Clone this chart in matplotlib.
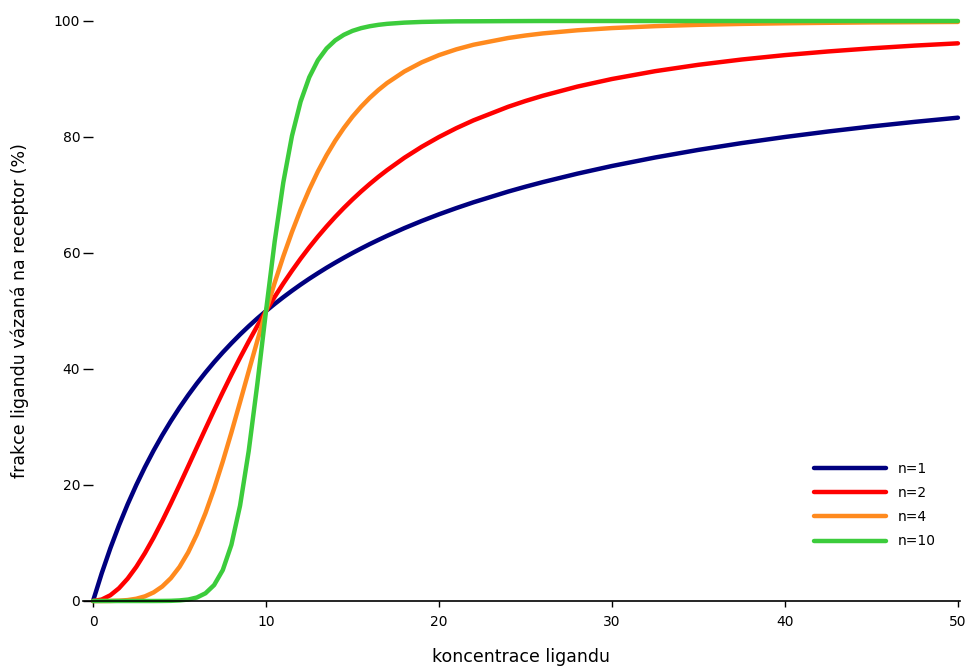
import matplotlib
matplotlib.use("Agg")
import matplotlib.pyplot as plt

# ligand concentration (K = 10)
conc = [0, 0.5, 1, 1.5, 2, 2.5, 3, 3.5, 4, 4.5,
        5, 5.5, 6, 6.5, 7, 7.5, 8, 8.5, 9, 9.5,
        10, 10.5, 11, 11.5, 12, 12.5, 13, 13.5, 14, 14.5,
        15, 15.5, 16, 16.5, 17, 18, 19, 20, 21, 22,
        24, 25, 26, 28, 30, 32.5, 35, 37.5, 40, 42.5,
        45, 47.5, 50]

n1 = [0, 4.76, 9.09, 13.04, 16.67, 20, 23.08, 25.93, 28.57, 31.03,
      33.33, 35.48, 37.5, 39.39, 41.18, 42.86, 44.44, 45.95, 47.37, 48.72,
      50, 51.22, 52.38, 53.49, 54.55, 55.56, 56.52, 57.45, 58.33, 59.18,
      60, 60.78, 61.54, 62.26, 62.96, 64.29, 65.52, 66.67, 67.74, 68.75,
      70.59, 71.43, 72.22, 73.68, 75, 76.47, 77.78, 78.95, 80, 80.95,
      81.82, 82.61, 83.33]
n2 = [0, 0.25, 0.99, 2.2, 3.85, 5.88, 8.26, 10.91, 13.79, 16.84,
      20, 23.22, 26.47, 29.7, 32.89, 36, 39.02, 41.94, 44.75, 47.44,
      50, 52.44, 54.75, 56.94, 59.02, 60.98, 62.83, 64.57, 66.22, 67.77,
      69.23, 70.61, 71.91, 73.14, 74.29, 76.42, 78.31, 80, 81.52, 82.88,
      85.21, 86.21, 87.11, 88.69, 90, 91.35, 92.45, 93.36, 94.12, 94.75,
      95.29, 95.76, 96.15]
n4 = [0, 0, 0.01, 0.05, 0.16, 0.39, 0.8, 1.48, 2.5, 3.94,
      5.88, 8.38, 11.47, 15.15, 19.36, 24.04, 29.06, 34.3, 39.62, 44.89,
      50, 54.86, 59.42, 63.62, 67.46, 70.94, 74.07, 76.86, 79.35, 81.55,
      83.51, 85.23, 86.76, 88.11, 89.31, 91.3, 92.87, 94.12, 95.11, 95.91,
      97.07, 97.5, 97.86, 98.4, 98.78, 99.11, 99.34, 99.5, 99.61, 99.69,
      99.76, 99.8, 99.84]
n10 = [0, 0, 0, 0, 0, 0, 0, 0, 0.01, 0.03,
       0.1, 0.25, 0.6, 1.33, 2.75, 5.33, 9.7, 16.45, 25.86, 37.45,
       50, 61.96, 72.17, 80.18, 86.1, 90.3, 93.24, 95.26, 96.66, 97.62,
       98.3, 98.77, 99.1, 99.34, 99.51, 99.72, 99.84, 99.9, 99.94, 99.95,
       99.98, 99.99, 100, 100, 100, 100, 100, 100, 100, 100,
       100, 100, 100]

labels = ["n=1", "n=2", "n=4", "n=10"]
colors = ["#00007f", "#ff0000", "#ff8a1e", "#3ccc3c"]

fig = plt.figure(figsize=(9.78, 6.71), dpi=100)
ax = fig.add_axes([83 / 978, 1 - 601 / 671, 877 / 978, 580 / 671])

for ys, lab, c in zip([n1, n2, n4, n10], labels, colors):
    ax.plot(conc, ys, color=c, lw=3.2, label=lab, clip_on=False,
            solid_capstyle="round", solid_joinstyle="round")

ax.set_xlim(-0.58, 50.12)
ax.set_ylim(0, 100)
for s in ["left", "top", "right"]:
    ax.spines[s].set_visible(False)
ax.spines["bottom"].set_linewidth(1.2)

ax.set_xticks([0, 10, 20, 30, 40, 50])
ax.set_yticks([0, 20, 40, 60, 80, 100])
ax.tick_params(axis="x", direction="out", length=4, width=1, pad=6, labelsize=10)
ax.tick_params(axis="y", direction="in", length=7, width=1, pad=2, labelsize=10)

ax.set_xlabel("koncentrace ligandu", fontsize=12.5, labelpad=14)
ax.set_ylabel("frakce ligandu vázaná na receptor (%)", fontsize=12.5, labelpad=18)

ax.legend(loc="upper left", bbox_to_anchor=(814 / 978, 1 - 462 / 671),
          bbox_transform=fig.transFigure, frameon=False, borderpad=0,
          borderaxespad=0, handlelength=5.2, handletextpad=0.8,
          labelspacing=0.73, fontsize=10)

fig.savefig("out.png", dpi=100)
